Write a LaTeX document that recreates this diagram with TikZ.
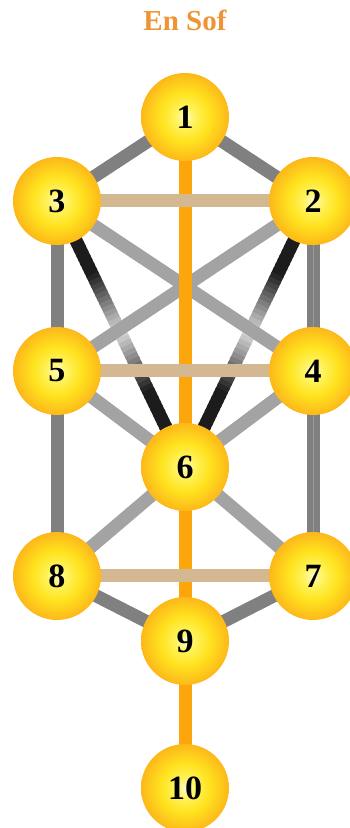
\documentclass[tikz,border=0pt]{standalone}
\usepackage{fontspec}
\setmainfont{Liberation Serif}
\usepackage{tikz}
\usetikzlibrary{positioning,calc,backgrounds}
\definecolor{TitleOrange}{RGB}{238,148,52}
\definecolor{TrunkOrange}{RGB}{252,166,12}
\definecolor{PathTan}{RGB}{211,184,145}
\definecolor{PathGray}{RGB}{128,128,128}
\definecolor{PathLight}{RGB}{163,163,163}
\definecolor{PathDark}{RGB}{28,28,28}
\pgfdeclareradialshading{sefira}{\pgfpoint{0bp}{0bp}}{rgb(0bp)=(1,0.98,0.78);rgb(6bp)=(1,0.95,0.35);rgb(14bp)=(1,0.89,0.12);rgb(25bp)=(0.99,0.72,0.1);rgb(35bp)=(0.96,0.6,0.1);rgb(50bp)=(0.96,0.6,0.1)}

\begin{document}
\begin{tikzpicture}[x=1pt,y=1pt,on grid,every node/.style={font=\bfseries}]
\tikzset{ball/.style={circle,shading=sefira,minimum size=88pt,inner sep=0pt,font=\bfseries\fontsize{34}{34}\selectfont},
  link/.style={line width=13pt}}
\useasboundingbox (0,0) rectangle (349,828);
\node[ball] at (185,711) (k1) {1};
\node[ball,below left=84pt and 128pt of k1] (k3) {3};
\node[ball,below right=84pt and 128pt of k1] (k2) {2};
\node[ball,below=170pt of k3] (k5) {5};
\node[ball,below=170pt of k2] (k4) {4};
\node[ball,below=350pt of k1] (k6) {6};
\node[ball,below=205pt of k5] (k8) {8};
\node[ball,below=205pt of k4] (k7) {7};
\node[ball,below=174pt of k6] (k9) {9};
\node[ball,below=147pt of k9] (k10) {10};
\node[font=\bfseries\fontsize{29}{29}\selectfont,text=TitleOrange,above=97pt of k1] (ensof) {En Sof};
\begin{scope}[on background layer]
% dark paths into 6, light in the middle
\foreach \s in {3,2}
  \foreach \i in {0,...,59} {
    \pgfmathsetmacro\p{15+85*min(1,abs((\i+0.5)/60-0.5)/0.22)}
    \draw[link,PathDark!\p!white] ($(k\s)!{(\i-0.4)/60}!(k6)$) -- ($(k\s)!{(\i+1)/60}!(k6)$);
  }
\foreach \a/\b in {3/4,2/5,5/6,4/6,6/8,6/7}
  \draw[link,PathLight] (k\a.center) -- (k\b.center);
\foreach \a/\b in {1/3,1/2,3/5,5/8,2/4,4/7,8/9,7/9}
  \draw[link,PathGray] (k\a.center) -- (k\b.center);
\draw[line width=1pt,PathGray!80!white] (k2.center) -- (k7.center);
\foreach \a/\b in {1/6,6/9,9/10}
  \draw[link,TrunkOrange] (k\a.center) -- (k\b.center);
\foreach \a/\b in {3/2,5/4,8/7}
  \draw[link,PathTan] (k\a.center) -- (k\b.center);
\end{scope}
\end{tikzpicture}
\end{document}
